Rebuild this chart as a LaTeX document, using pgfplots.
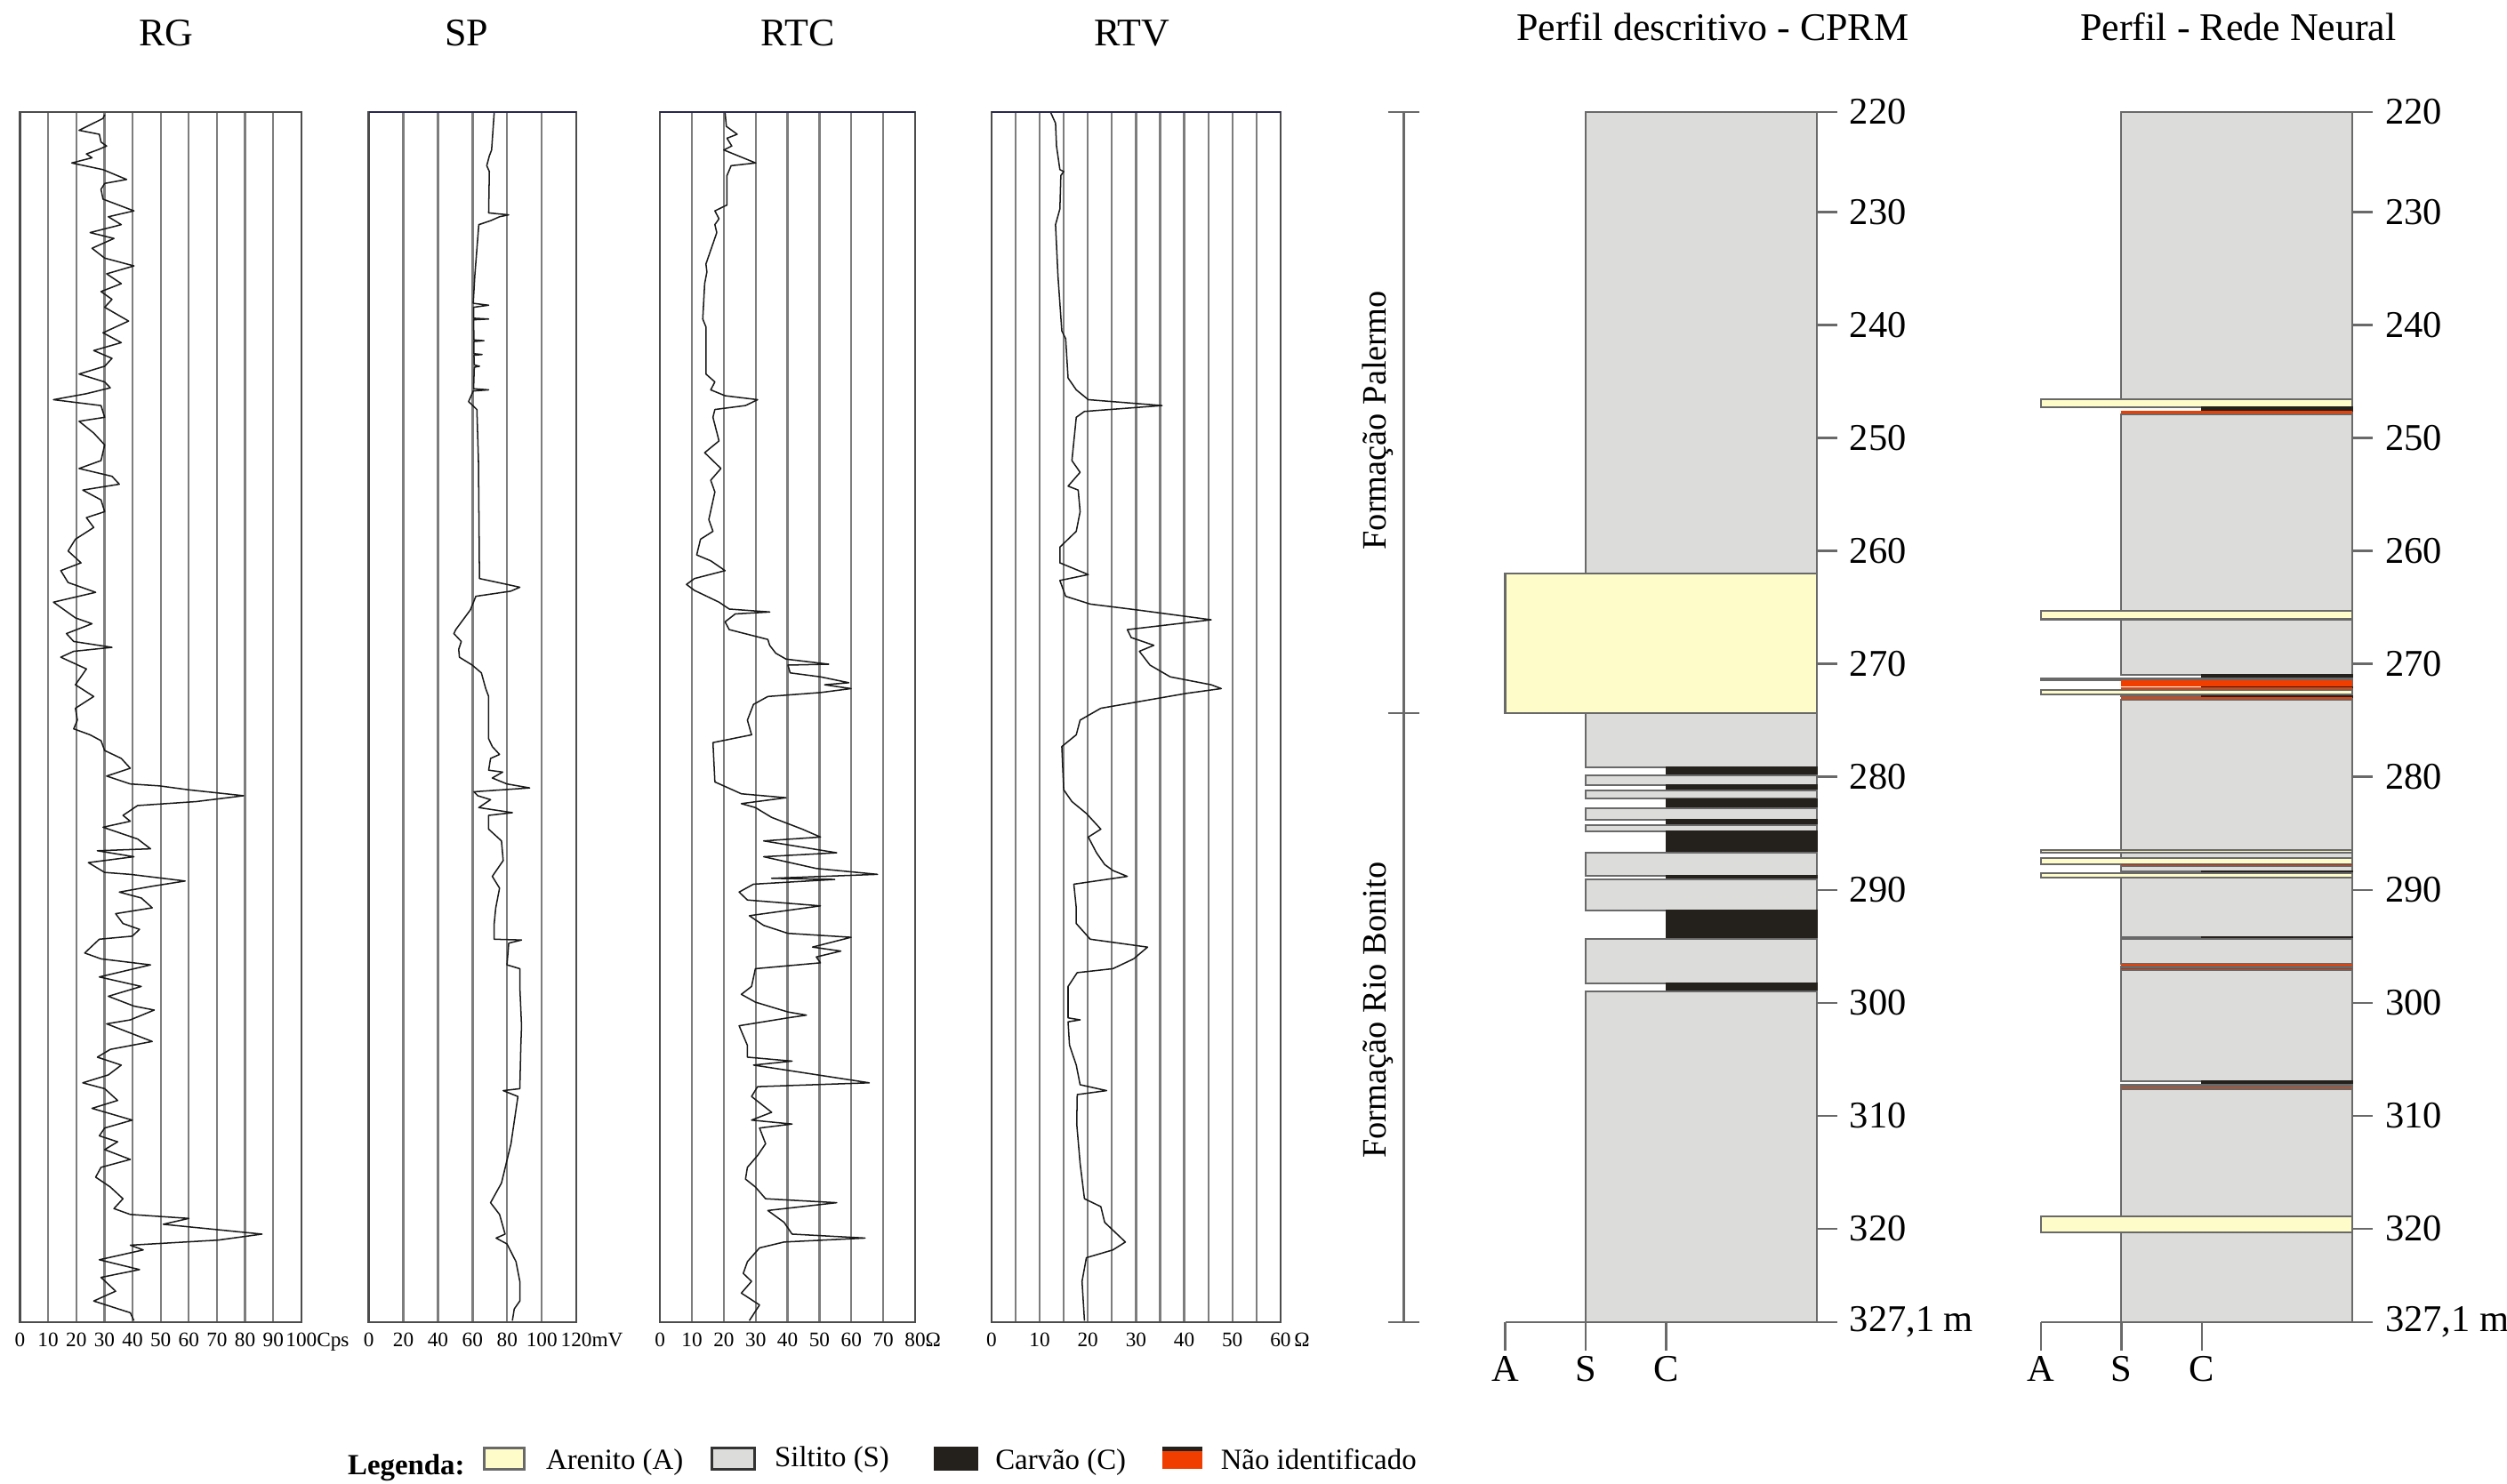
\documentclass[border=0pt]{standalone}
\usepackage{fontspec}
\setmainfont{Liberation Serif}
\usepackage{pgfplots}
\pgfplotsset{compat=1.18}
\definecolor{arenito}{RGB}{254,252,200}
\definecolor{siltito}{RGB}{220,220,219}
\definecolor{carvao}{RGB}{36,33,28}
\definecolor{naoid}{RGB}{240,62,0}
\definecolor{naoidd}{RGB}{190,50,10}
\definecolor{gridc}{RGB}{125,125,125}
\definecolor{edge}{RGB}{105,105,105}
\definecolor{navy}{RGB}{40,40,80}
\newcommand\tfont{\fontsize{8.7}{10}\selectfont}
\newcommand\dfont{\fontsize{8.4}{10}\selectfont}
\newcommand\smfont{\fontsize{4.6}{5.5}\selectfont}
\newcommand\ffont{\fontsize{7.6}{9}\selectfont}
\newcommand\gfont{\fontsize{6.5}{8}\selectfont}
\pgfplotsset{
  logtrack/.style={
    scale only axis, height=9.4625cm, y dir=reverse, ymin=220, ymax=327.1,
    ytick=\empty, xmajorgrids, grid style={gridc, line width=0.45pt},
    axis line style={draw=black!70, line width=0.5pt},
    major tick length=0pt, minor tick length=0pt,
    xticklabel style={font=\smfont, inner sep=0pt, yshift=-0.08cm},
    clip=true, anchor=north west,
  },
  logline/.style={black!90, line width=0.3pt, mark=none, line join=round},
  lithcol/.style={
    scale only axis, width=2.4365cm, height=9.4625cm, y dir=reverse,
    ymin=221.14, ymax=328.25, xmin=0, xmax=3.87,
    axis x line*=bottom, axis y line*=right,
    axis line style={draw=edge, line width=0.5pt, -},
    tick align=outside, major tick length=0.159cm,
    xtick={0,1,2}, xticklabels={A,S,C},
    xtick style={draw=edge, line width=0.5pt, /pgfplots/major tick length=0.225cm},
    ytick style={draw=edge, line width=0.5pt},
    ytick={230,240,...,320},
    yticklabels={230,240,250,260,270,280,290,300,310,320},
    extra y ticks={221.14,328.25}, extra y tick labels={220,{327,1 m}},
    extra y tick style={ytick style={draw=edge, line width=0.5pt}},
    yticklabel style={font=\dfont, inner sep=0pt, xshift=0.09cm, anchor=west},
    xticklabel style={font=\dfont, inner sep=0pt, yshift=-0.1cm},
    clip=false, anchor=north west,
  },
  ar/.style={fill=arenito, draw=edge, line width=0.4pt},
  si/.style={fill=siltito, draw=edge, line width=0.4pt},
  ca/.style={fill=carvao, draw=carvao, line width=0.3pt},
  ni/.style={fill=naoid, draw=none},
  nid/.style={fill=naoidd, draw=none},
}
\newcommand{\lay}[4]{\addplot[#1] coordinates {(#2,#3) (3.87,#3) (3.87,#4) (#2,#4)} -- cycle;}
\begin{document}
\begin{tikzpicture}

% ---------------- RG ----------------
\begin{axis}[logtrack, at={(0.15625cm,10.725cm)}, width=2.2cm, xmin=0, xmax=100,
  xtick={0,10,...,100}, xticklabels={0,10,20,30,40,50,60,70,80,90,100\rlap{Cps}}]
\addplot[logline] coordinates {(30.1,220.24) (29.5,220.58) (21.0,221.63) (28.2,221.98) (28.8,222.67) (30.8,223.02) (27.5,223.37) (23.6,223.72) (25.6,224.06) (18.4,224.52) (29.5,225.11) (37.9,225.98) (30.1,226.33) (28.8,226.85) (29.5,227.72) (40.5,228.76) (31.4,229.28) (36.0,229.98) (24.9,230.68) (33.4,231.20) (25.6,232.07) (30.1,232.94) (40.5,233.63) (30.8,234.33) (36.0,235.20) (28.8,235.90) (32.7,236.59) (30.1,237.29) (38.6,238.51) (29.5,239.55) (36.0,240.42) (26.2,241.12) (32.7,241.81) (30.1,242.51) (21.0,243.20) (30.1,243.90) (32.1,244.42) (23.6,244.94) (11.9,245.47) (28.8,245.99) (30.1,247.03) (21.0,247.38) (26.2,248.42) (30.1,249.47) (28.8,250.86) (21.0,251.56) (32.7,252.25) (35.3,252.95) (22.3,253.47) (28.8,254.34) (30.1,255.38) (23.6,255.91) (26.2,256.78) (19.7,257.82) (17.1,258.86) (21.7,259.91) (14.5,260.60) (17.1,261.65) (26.9,262.52) (11.9,263.39) (19.7,264.78) (25.6,265.30) (16.5,266.17) (19.1,266.87) (32.7,267.39) (19.1,267.74) (14.5,268.26) (23.6,269.30) (19.7,270.70) (26.2,271.74) (19.7,272.78) (20.4,273.83)
(19.1,274.60) (24.9,275.13) (28.8,275.65) (30.1,276.52) (36.0,277.22) (39.2,278.09) (30.8,278.78) (39.2,279.48) (49.6,279.65) (60.0,280.00) (79.5,280.52) (62.6,281.04) (41.8,281.39) (36.6,282.26) (39.2,282.78) (29.5,283.31) (41.8,284.35) (46.4,285.22) (27.5,285.39) (40.5,285.92) (24.3,286.44) (30.1,287.31) (39.2,287.48) (58.7,288.07) (47.0,288.53) (35.3,289.05) (43.1,289.57) (47.0,290.44) (34.0,290.96) (36.6,291.83) (42.5,292.35) (39.9,292.95) (28.2,293.22) (23.0,294.44) (28.8,294.96) (46.4,295.49) (28.2,296.56) (43.1,297.40) (31.4,298.27) (40.5,299.14) (47.7,299.49) (39.2,300.36) (30.8,300.71) (47.0,302.27) (32.1,302.97) (27.5,303.66) (36.0,304.36) (31.4,305.23) (22.3,305.93) (30.1,306.45) (34.7,307.49) (25.6,308.19) (39.9,309.23) (30.1,309.93) (28.2,310.62) (34.7,311.15) (30.1,311.84) (39.2,312.71) (28.8,313.41) (26.9,314.28) (32.1,315.15) (36.6,316.19) (33.4,317.06) (39.2,317.58) (60.0,317.93) (50.9,318.45) (86.0,319.32) (70.4,319.85) (39.2,320.30) (43.8,320.72) (28.2,321.59) (42.5,322.46) (28.8,323.15) (34.0,324.37) (26.2,325.24) (39.2,326.28) (40.5,326.98)};
\end{axis}

% ---------------- SP ----------------
\begin{axis}[logtrack, at={(2.8825cm,10.725cm)}, width=1.624cm, xmin=0, xmax=120,
  xtick={0,20,...,120}, xticklabels={0,20,40,60,80,100,120\rlap{mV}}]
\addplot[logline] coordinates {(72.5,220.06) (71.0,223.37) (69.7,223.89) (68.2,224.76) (69.7,225.28) (69.3,228.94) (80.9,229.11) (75.6,229.28) (70.4,229.63) (63.6,229.98) (61.3,234.50) (60.4,236.94) (69.3,237.11) (60.6,237.29) (60.6,238.26) (69.3,238.33) (60.6,238.40) (60.8,240.18) (66.6,240.25) (60.8,240.32) (60.8,241.40) (65.5,241.47) (60.8,241.54) (61.0,242.40) (64.0,242.51) (61.0,242.60) (60.6,244.50) (69.3,244.60) (60.4,244.70) (57.7,245.64) (62.5,246.34) (63.4,250.86) (64.0,261.30) (79.9,261.82) (87.3,262.07) (82.0,262.42) (61.9,262.87) (58.7,264.08) (50.3,265.82) (49.2,266.17) (53.5,266.87) (52.0,267.56) (52.4,268.26) (59.8,268.96) (65.1,269.65) (67.6,271.04) (69.3,271.74) (69.3,273.83)
(69.3,275.48) (71.4,276.17) (75.6,276.87) (70.4,277.22) (69.3,278.26) (77.4,278.43) (71.4,278.95) (79.9,279.48) (93.0,279.83) (60.8,280.17) (63.0,280.52) (70.4,280.87) (63.6,281.57) (83.0,282.02) (69.3,282.26) (69.3,283.48) (76.7,284.52) (77.7,286.26) (71.4,287.66) (75.6,288.70) (73.4,290.44) (72.5,291.83) (72.5,293.22) (88.3,293.29) (80.9,293.57) (79.9,295.49) (87.3,295.83) (87.3,297.40) (88.3,300.88) (87.9,302.62) (87.3,306.45) (77.7,306.62) (86.2,307.14) (82.2,311.32) (76.7,314.80) (70.4,316.54) (75.6,317.58) (78.8,319.32) (73.6,319.67) (79.9,320.19) (85.1,321.76) (87.3,323.50) (87.3,325.24) (84.1,325.94) (83.0,326.98)};
\end{axis}

% ---------------- RTC ----------------
\begin{axis}[logtrack, at={(5.16cm,10.725cm)}, width=1.995cm, xmin=0, xmax=80,
  xtick={0,10,...,80}, xticklabels={0,10,20,30,40,50,60,70,80\rlap{Ω}}]
\addplot[logline] coordinates {(20.4,220.06) (20.8,221.28) (24.2,221.98) (21.0,222.33) (22.5,223.02) (20.0,223.37) (30.0,224.52) (22.3,224.76) (21.0,225.63) (21.0,228.24) (17.2,228.76) (18.5,229.46) (17.2,229.98) (17.8,230.68) (14.4,233.46) (14.7,234.16) (14.0,235.20) (13.4,238.33) (14.4,239.03) (14.4,243.20) (17.2,243.90) (15.9,244.60) (20.4,245.12) (30.6,245.47) (26.8,245.99) (17.2,246.34) (16.6,247.03) (18.5,249.12) (14.0,250.16) (19.1,251.56) (15.9,252.60) (17.2,253.64) (15.3,256.08) (16.6,257.12) (12.7,257.82) (11.5,259.21) (15.9,259.73) (20.4,260.60) (10.8,261.30) (8.3,261.82) (10.8,262.35) (18.5,263.39) (21.7,264.00) (34.4,264.26) (23.6,264.43) (20.4,265.13) (21.7,265.82) (33.8,266.69) (34.4,267.22) (36.3,267.91) (39.5,268.43) (52.9,268.88) (40.1,268.96) (40.8,269.65) (50.3,270.00) (59.2,270.52) (51.6,270.70) (59.9,271.04) (50.3,271.39) (33.8,271.74) (29.3,272.44) (27.4,273.83)
(28.7,275.13) (16.6,275.82) (17.2,279.30) (25.5,280.35) (39.5,280.70) (25.5,281.22) (29.9,281.57) (35.0,282.44) (44.6,283.48) (50.3,284.18) (32.5,284.52) (55.4,285.57) (32.5,285.92) (49.0,286.96) (68.2,287.48) (35.0,287.83) (54.8,287.93) (29.3,288.35) (24.8,289.05) (27.4,289.75) (50.3,290.27) (28.0,291.14) (32.5,292.00) (40.1,292.70) (59.9,293.05) (47.8,293.92) (56.7,294.27) (49.0,294.79) (50.3,295.31) (29.9,295.83) (28.7,297.40) (25.5,298.10) (29.9,298.79) (40.1,299.66) (45.9,299.94) (40.1,300.18) (24.8,300.88) (27.4,302.62) (27.4,303.66) (41.4,304.01) (29.3,304.36) (65.6,305.93) (30.6,306.27) (28.7,307.14) (35.0,308.54) (28.7,309.23) (41.4,309.58) (31.2,309.93) (33.1,311.32) (30.6,312.36) (27.4,313.41) (26.8,314.45) (29.9,315.15) (33.1,316.19) (55.4,316.54) (33.8,317.23) (38.9,318.28) (41.4,319.32) (64.3,319.67) (38.9,320.02) (31.2,320.54) (27.4,321.76) (26.1,322.80) (28.7,323.50) (25.5,324.54) (31.2,325.59) (28.0,326.98)};
\end{axis}

% ---------------- RTV ----------------
\begin{axis}[logtrack, at={(7.75125cm,10.725cm)}, width=2.26cm, xmin=0, xmax=60,
  xtick={0,10,...,60}, xticklabels={0,10,20,30,40,50,60\rlap{\,Ω}},
  minor xtick={5,15,...,55}, xminorgrids, minor grid style={gridc, line width=0.45pt}]
\addplot[logline] coordinates {(12.3,220.06) (13.3,221.00) (13.5,223.02) (14.2,225.11) (15.0,225.28) (14.4,225.63) (14.2,228.59) (13.3,229.98) (13.8,234.50) (14.6,239.38) (15.4,240.07) (15.9,243.55) (17.6,244.60) (20.1,245.47) (35.4,245.99) (19.3,246.51) (17.6,247.03) (16.7,250.86) (18.4,251.90) (15.9,253.12) (18.0,253.47) (18.4,255.38) (17.6,257.12) (14.2,258.52) (14.2,259.91) (20.1,260.95) (14.2,261.47) (15.4,262.87) (20.5,263.56) (30.3,264.08) (45.6,264.95) (28.2,265.82) (29.0,266.52) (33.7,267.21) (30.7,267.74) (32.9,268.96) (37.1,270.00) (45.6,270.70) (47.7,271.04) (40.5,271.46) (22.7,272.78) (18.4,273.83)
(17.6,275.13) (14.6,276.17) (15.0,280.00) (16.7,281.04) (19.7,282.09) (22.7,283.48) (20.1,284.18) (21.8,285.57) (23.5,286.61) (25.2,287.14) (28.2,287.66) (17.1,288.35) (17.6,290.44) (17.6,291.83) (20.5,293.22) (32.4,293.92) (29.5,294.96) (25.2,295.83) (17.8,296.18) (15.9,297.40) (15.9,300.18) (18.4,300.36) (15.9,300.53) (16.2,302.60) (17.6,304.36) (18.4,306.10) (23.9,306.62) (17.8,306.97) (17.7,309.58) (18.4,313.06) (19.3,316.19) (22.7,316.89) (23.5,318.28) (25.2,318.97) (27.8,320.02) (25.2,320.72) (19.7,321.41) (18.8,323.50) (19.3,326.98)};
\end{axis}

% dark top lines of SP, RTC, RTV tracks
\draw[navy, line width=0.5pt] (2.8825,10.725) -- (4.50625,10.725);
\draw[navy, line width=0.5pt] (5.16,10.725) -- (7.155,10.725);
\draw[navy, line width=0.5pt] (7.75125,10.725) -- (10.01125,10.725);

% ---------------- Perfil descritivo - CPRM ----------------
\begin{axis}[lithcol, at={(11.7675cm,10.725cm)}]
\lay{si}{1}{221.14}{262.03}
\lay{ar}{0}{262.03}{274.34}
\lay{si}{1}{274.34}{279.17}
\lay{ca}{2}{279.17}{279.88}
\lay{si}{1}{279.88}{280.74}
\lay{ca}{2}{280.74}{281.19}
\lay{si}{1}{281.19}{281.93}
\lay{ca}{2}{281.93}{282.76}
\lay{si}{1}{282.76}{283.81}
\lay{ca}{2}{283.81}{284.29}
\lay{si}{1}{284.29}{284.81}
\lay{ca}{2}{284.81}{286.70}
\lay{si}{1}{286.70}{288.75}
\lay{ca}{2}{288.75}{289.06}
\lay{si}{1}{289.06}{291.79}
\lay{ca}{2}{291.79}{294.33}
\lay{si}{1}{294.33}{298.27}
\lay{ca}{2}{298.27}{298.98}
\lay{si}{1}{298.98}{328.25}
\end{axis}

% ---------------- Perfil - Rede Neural ----------------
\begin{axis}[lithcol, at={(15.955cm,10.725cm)}]
\lay{si}{1}{221.14}{246.59}
\lay{ar}{0}{246.59}{247.30}
\lay{ca}{2}{247.30}{247.60}
\lay{ni}{1}{247.60}{247.90}
\lay{si}{1}{247.90}{265.34}
\lay{ar}{0}{265.34}{266.05}
\lay{si}{1}{266.05}{270.98}
\lay{ca}{2}{270.98}{271.30}
\lay{ar}{0}{271.30}{271.46}
\lay{ni}{1}{271.46}{271.72}
\lay{ni}{1}{271.77}{272.03}
\lay{ca}{2}{272.03}{272.08}
\lay{ni}{1}{272.08}{272.34}
\lay{ar}{0}{272.34}{272.70}
\lay{si}{1}{272.70}{272.86}
\lay{ca}{2}{272.86}{272.96}
\lay{ni}{1}{272.96}{273.17}
\lay{si}{1}{273.17}{286.46}
\lay{ar}{0}{286.46}{286.73}
\lay{si}{1}{286.73}{287.17}
\lay{ar}{0}{287.17}{287.70}
\lay{nid}{1}{287.70}{287.88}
\lay{si}{1}{287.88}{288.35}
\lay{ca}{2}{288.35}{288.51}
\lay{ar}{0}{288.51}{288.93}
\lay{si}{1}{288.93}{294.18}
\lay{ca}{2}{294.18}{294.36}
\lay{si}{1}{294.36}{296.54}
\lay{ni}{1}{296.54}{296.80}
\lay{si}{1}{296.80}{296.93}
\lay{nid}{1}{296.93}{297.06}
\lay{si}{1}{297.06}{306.93}
\lay{ca}{2}{306.93}{307.29}
\lay{si}{1}{307.29}{307.50}
\lay{ni}{1}{307.50}{307.66}
\lay{si}{1}{307.66}{318.89}
\lay{ar}{0}{318.89}{320.30}
\lay{si}{1}{320.30}{328.25}
\end{axis}

% ---------------- titles ----------------
\node[font=\tfont] at (1.30,11.34) {RG};
\node[font=\tfont] at (3.65,11.34) {SP};
\node[font=\tfont] at (6.2375,11.34) {RTC};
\node[font=\tfont] at (8.85,11.34) {RTV};
\node[font=\tfont] at (13.39,11.39) {Perfil descritivo - CPRM};
\node[font=\tfont] at (17.50,11.39) {Perfil - Rede Neural};

% ---------------- formations ----------------
\draw[edge, line width=0.5pt] (10.975,10.725) -- (10.975,1.2625);
\draw[edge, line width=0.5pt] (10.85,10.725) -- (11.10,10.725);
\draw[edge, line width=0.5pt] (10.85,6.025) -- (11.10,6.025);
\draw[edge, line width=0.5pt] (10.85,1.2625) -- (11.10,1.2625);
\node[font=\ffont, rotate=90] at (10.775,8.3125) {Formação Palermo};
\node[font=\ffont, rotate=90] at (10.775,3.70) {Formação Rio Bonito};

% ---------------- legend ----------------
\node[font=\gfont\bfseries, anchor=base west, inner sep=0pt] at (2.7125,0.07) {Legenda:};
\draw[fill=arenito, draw=edge, line width=0.6pt] (3.7875,0.1125) rectangle (4.10,0.275);
\node[font=\gfont, anchor=base west, inner sep=0pt] at (4.2625,0.1125) {Arenito (A)};
\draw[fill=siltito, draw=black!80, line width=0.6pt] (5.5625,0.1125) rectangle (5.90,0.275);
\node[font=\gfont, anchor=base west, inner sep=0pt] at (6.05,0.13) {Siltito (S)};
\draw[fill=carvao, draw=carvao, line width=0.6pt] (7.3125,0.1125) rectangle (7.6375,0.275);
\node[font=\gfont, anchor=base west, inner sep=0pt] at (7.775,0.1125) {Carvão (C)};
\draw[fill=naoid, draw=none] (9.0875,0.1125) rectangle (9.40,0.275);
\draw[carvao, line width=1pt] (9.0875,0.27) -- (9.40,0.27);
\node[font=\gfont, anchor=base west, inner sep=0pt] at (9.5375,0.1125) {Não identificado};

\pgfresetboundingbox
\path[use as bounding box] (0,0) rectangle (19.6,11.6);
\end{tikzpicture}
\end{document}
